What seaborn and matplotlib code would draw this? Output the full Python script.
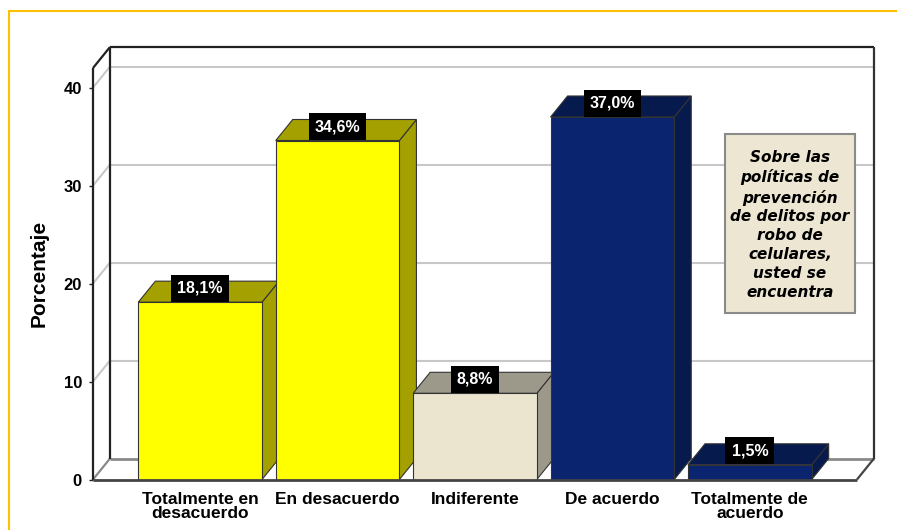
import matplotlib
matplotlib.use("Agg")
import matplotlib.pyplot as plt
from matplotlib.patches import Polygon, Rectangle
import seaborn as sns

# Survey answers and their percentages
categorias = ["Totalmente en\ndesacuerdo", "En desacuerdo", "Indiferente",
              "De acuerdo", "Totalmente de\nacuerdo"]
porcentajes = [18.1, 34.6, 8.8, 37.0, 1.5]
ticks_y = [0, 10, 20, 30, 40]
titulo_leyenda = ("Sobre las\npolíticas de\nprevención\nde delitos por\n"
                  "robo de\ncelulares,\nusted se\nencuentra")

# Face colours (front) and shaded colours (top / side) per category
frentes = ["#FFFF00", "#FFFF00", "#EBE5D0", "#0A2470", "#0A2470"]
sombras = ["#A3A000", "#A3A000", "#9C998A", "#061A4E", "#061A4E"]

sns.set_style("white")
plt.rcParams["font.family"] = ["Liberation Sans", "DejaVu Sans"]
plt.rcParams["text.color"] = "black"
plt.rcParams["xtick.color"] = "black"
plt.rcParams["ytick.color"] = "black"
plt.rcParams["axes.labelcolor"] = "black"

W, H = 897, 530
fig = plt.figure(figsize=(W / 100, H / 100), dpi=100)
ax = fig.add_axes([93 / W, (H - 479.5) / H, 764 / W, 411.5 / H])

sns.barplot(x=categorias, y=porcentajes, hue=categorias, palette=frentes,
            legend=False, width=0.9, saturation=1, edgecolor="#333333",
            linewidth=0.8, ax=ax, zorder=2)

x_l, x_r = -0.78, 4.78
y_b, y_t = 0, 42
ax.set_xlim(x_l, x_r)
ax.set_ylim(y_b, y_t)
for s in ax.spines.values():
    s.set_visible(False)

# depth of the pseudo-3D box, in pixels, converted to data units
DEPTH_X, DEPTH_Y = 17, 21
bbox = ax.get_window_extent()
dx = DEPTH_X / (bbox.width / (x_r - x_l))
dy = DEPTH_Y / (bbox.height / (y_t - y_b))


def linea(xs, ys, color, lw, z=0.5):
    ax.plot(xs, ys, color=color, lw=lw, zorder=z, clip_on=False,
            solid_capstyle="butt")


# back wall and left wall gridlines
for g in ticks_y[1:]:
    linea([x_l + dx, x_r + dx], [g + dy, g + dy], "#C8C8C8", 1.5, 0.3)
    linea([x_l, x_l + dx], [g, g + dy], "#C8C8C8", 1.5, 0.3)

# box outline
linea([x_l, x_l], [0, y_t], "#222222", 1.6, 0.6)
linea([x_l + dx, x_l + dx], [dy, y_t + dy], "#222222", 1.6, 0.6)
linea([x_l, x_l + dx], [y_t, y_t + dy], "#222222", 1.6, 0.6)
linea([x_l + dx, x_r + dx], [y_t + dy, y_t + dy], "#222222", 1.6, 0.6)
linea([x_r + dx, x_r + dx], [dy, y_t + dy], "#333333", 1.6, 0.6)
# floor
linea([x_l + dx, x_r + dx], [dy, dy], "#8A8A8A", 2.0, 0.4)
linea([x_l, x_l + dx], [0, dy], "#8A8A8A", 1.6, 0.4)
linea([x_r, x_r + dx], [0, dy], "#444444", 1.6, 0.4)
linea([x_l, x_r], [0, 0], "#444444", 2.0, 3)

# top and side faces of each bar, plus value labels
for i, cont in enumerate(ax.containers):
    for bar in cont:
        x0, y0 = bar.get_x(), bar.get_y()
        x1, y1 = x0 + bar.get_width(), y0 + bar.get_height()
        lado = Polygon([(x1, y0), (x1 + dx, y0 + dy), (x1 + dx, y1 + dy), (x1, y1)],
                       closed=True, fc=sombras[i], ec="#333333", lw=0.8, zorder=1.5)
        tapa = Polygon([(x0, y1), (x0 + dx, y1 + dy), (x1 + dx, y1 + dy), (x1, y1)],
                       closed=True, fc=sombras[i], ec="#333333", lw=0.8, zorder=1.5)
        ax.add_patch(lado)
        ax.add_patch(tapa)
        texto = f"{porcentajes[i]:.1f}%".replace(".", ",")
        ax.annotate(texto, xy=((x0 + x1) / 2, y1), xytext=(0, 10),
                    textcoords="offset points", ha="center", va="center",
                    color="white", fontweight="bold", fontsize=11.5, zorder=6,
                    bbox=dict(boxstyle="square,pad=0.38", fc="black", ec="none"))

ax.set_yticks(ticks_y)
ax.set_yticklabels([str(t) for t in ticks_y], fontweight="bold", fontsize=12)
ax.tick_params(axis="y", length=3, width=1, pad=5, color="#222222", left=True)
ax.tick_params(axis="x", length=0, pad=9)
for lab in ax.get_xticklabels():
    lab.set_fontweight("bold")
    lab.set_fontsize(12.5)
    lab.set_linespacing(0.92)
ax.set_xlabel("")
ax.set_ylabel("Porcentaje", fontsize=15, fontweight="bold")
ax.yaxis.set_label_coords(-0.058, 0.5)

# legend title box
fig.add_artist(Rectangle((725 / W, (H - 313) / H), 130 / W, 179 / H,
                         transform=fig.transFigure, fc="#ECE6D2", ec="#8A8A8A",
                         lw=1.5, zorder=5))
fig.text(790 / W, 1 - 225 / H, titulo_leyenda, ha="center", va="center",
         fontsize=11, fontweight="bold", fontstyle="italic", family="DejaVu Sans",
         linespacing=1.32, zorder=6)

# outer frame
fig.add_artist(Rectangle((8.5 / W, -0.1), 2, 1 - 10.5 / H + 0.1,
                         transform=fig.transFigure, fill=False, ec="#FFC000",
                         lw=1.5, zorder=10))

fig.savefig("out.png", dpi=100)
